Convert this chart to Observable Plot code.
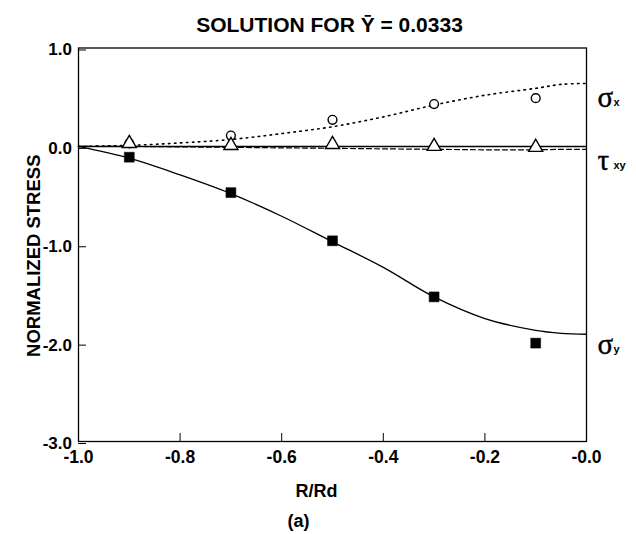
<!DOCTYPE html>
<html>
<head>
<meta charset="utf-8">
<script src="https://cdn.jsdelivr.net/npm/d3@7"></script>
<script src="https://cdn.jsdelivr.net/npm/@observablehq/plot@0.6"></script>
<style>
  html, body { margin: 0; padding: 0; background: #fff; }
  g[aria-label="ylabel"] text { letter-spacing: 1.4px; }
</style>
</head>
<body>
<div id="chart"></div>
<script>
// ---- data ----
const title = "SOLUTION FOR Ȳ = 0.0333";
const xLabel = "R/Rd";
const yLabel = "NORMALIZED STRESS";
const caption = "(a)";

const xTicks = [-1, -0.8, -0.6, -0.4, -0.2, 0];
const xTickLabels = ["-1.0", "-0.8", "-0.6", "-0.4", "-0.2", "-0.0"];
const yTicks = [1, 0, -1, -2, -3];
const yTickLabels = ["1.0", "0.0", "-1.0", "-2.0", "-3.0"];

// measured points
const pointX = [-0.9, -0.7, -0.5, -0.3, -0.1];
const sigmaXPts = [0.03, 0.11, 0.27, 0.43, 0.49];
const tauXYPts = [0.03, 0.01, 0.02, 0.0, -0.01];
const sigmaYPts = [-0.11, -0.47, -0.96, -1.53, -2.0];

// computed curves
const curveX = [-1.0, -0.9, -0.8, -0.7, -0.6, -0.5, -0.4, -0.3, -0.2, -0.1, -0.05, 0.0];
const sigmaXCurve = [0.0, 0.01, 0.035, 0.07, 0.13, 0.20, 0.30, 0.42, 0.52, 0.59, 0.63, 0.64];
const tauXYCurve = [0.0, 0.0, -0.005, -0.01, -0.015, -0.02, -0.025, -0.03, -0.035, -0.035, -0.03, -0.03];
const sigmaYCurve = [0.0, -0.12, -0.29, -0.48, -0.71, -0.97, -1.23, -1.53, -1.75, -1.87, -1.90, -1.91];

// right-side series labels
const seriesSym = ["σ", "τ", "σ"];
const seriesSub = ["x", "xy", "y"];
const seriesLabelY = [0.49, -0.15, -2.02];

// ---- build tables ----
const pts = pointX.map((x, i) => ({x, sx: sigmaXPts[i], txy: tauXYPts[i], sy: sigmaYPts[i]}));
const crv = curveX.map((x, i) => ({x, sx: sigmaXCurve[i], txy: tauXYCurve[i], sy: sigmaYCurve[i]}));
const labels = seriesSym.map((s, i) => ({sym: s, sub: seriesSub[i], y: seriesLabelY[i]}));

const FONT = "Liberation Sans, Arial, Helvetica, sans-serif";
const SERIF = "Liberation Serif, Times New Roman, serif";

const chart = Plot.plot({
  width: 636,
  height: 534,
  marginLeft: 78,
  marginRight: 50,
  marginTop: 47.5,
  marginBottom: 93,
  style: {fontFamily: FONT, color: "#000", background: "#fff", overflow: "visible"},
  x: {domain: [-1, 0]},
  y: {domain: [-3, 1]},
  marks: [
    Plot.ruleY([0], {stroke: "#000", strokeWidth: 1.5}),
    Plot.line(crv, {x: "x", y: "txy", stroke: "#000", strokeWidth: 1.2, strokeDasharray: "5,3"}),
    Plot.line(crv, {x: "x", y: "sx", stroke: "#000", strokeWidth: 1.6, strokeDasharray: "1.5,4.5", curve: "catmull-rom"}),
    Plot.line(crv, {x: "x", y: "sy", stroke: "#000", strokeWidth: 1.3, curve: "catmull-rom"}),
    Plot.dot(pts, {x: "x", y: "sx", symbol: "circle", r: 4.4, stroke: "#000", strokeWidth: 1.4, fill: "#fff"}),
    Plot.dot(pts, {x: "x", y: "txy", symbol: "triangle", r: 5.2, stroke: "#000", strokeWidth: 1.4, fill: "#fff"}),
    Plot.dot(pts, {x: "x", y: "sy", symbol: "square", r: 5.6, stroke: "#000", strokeWidth: 0.5, fill: "#000"}),
    Plot.frame({stroke: "#000", strokeWidth: 1.3}),
    Plot.axisX({ticks: xTicks, tickFormat: d => xTickLabels[xTicks.indexOf(d)], tickSize: -8, tickPadding: 17.5,
      fontSize: 17.5, fontWeight: "bold", label: null}),
    Plot.axisY({ticks: yTicks, tickFormat: d => yTickLabels[yTicks.indexOf(d)], tickSize: -8, tickPadding: 14.5,
      fontSize: 17, fontWeight: "bold", label: null, dy: 2}),
    // right labels
    Plot.text(labels, {y: "y", text: "sym", frameAnchor: "right", textAnchor: "start", lineAnchor: "middle", dx: 11,
      fontFamily: SERIF, fontSize: 29, fill: "#000", stroke: "#000", strokeWidth: 0.4}),
    Plot.text(labels, {y: "y", text: "sub", frameAnchor: "right", textAnchor: "start", lineAnchor: "middle", dx: 27, dy: 4,
      fontFamily: FONT, fontSize: 11, fontWeight: "bold", fill: "#000"}),
    // title & axis labels
    Plot.text([title], {frameAnchor: "top", textAnchor: "middle", lineAnchor: "middle", dx: -3, dy: -22.5,
      fontSize: 21, fontWeight: "bold", fill: "#000"}),
    Plot.text([yLabel], {frameAnchor: "left", textAnchor: "middle", lineAnchor: "middle", rotate: -90, dx: -44, dy: 11,
      fontSize: 18.5, fontWeight: "bold", fill: "#000", ariaLabel: "ylabel"}),
    Plot.text([xLabel], {frameAnchor: "bottom", textAnchor: "middle", lineAnchor: "middle", dx: -16, dy: 50,
      fontSize: 18, fontWeight: "bold", fill: "#000"}),
    Plot.text([caption], {frameAnchor: "bottom", textAnchor: "middle", lineAnchor: "middle", dx: -34, dy: 80,
      fontSize: 18, fontWeight: "bold", fill: "#000"})
  ]
});
document.getElementById("chart").appendChild(chart);
</script>
</body>
</html>
